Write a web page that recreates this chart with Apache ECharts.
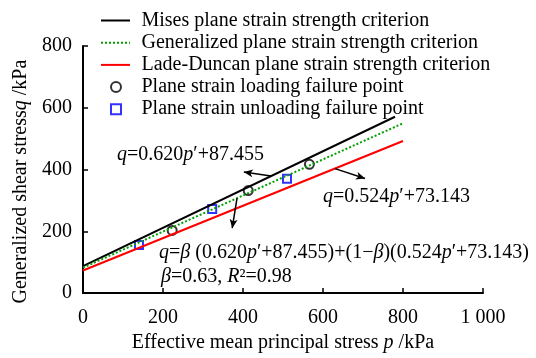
<!DOCTYPE html>
<html>
<head>
<meta charset="utf-8">
<script src="https://cdn.jsdelivr.net/npm/echarts@6/dist/echarts.min.js"></script>
<style>
  html, body { margin: 0; padding: 0; background: #fff; }
  #chart { width: 536px; height: 358px; }
</style>
</head>
<body>
<div id="chart"></div>
<script>
// line end points [p', q]
var misesLine = [[0, 87.5], [780, 571]];
var generalLine = [[0, 82.2], [800, 549.8]];
var ladeLine = [[0, 73.1], [800, 492.3]];
// test points
var loadingPts = [[223, 203], [413, 332], [566, 417]];
var unloadingPts = [[140, 156], [323, 272], [510, 370]];

var seriesNames = [
  "Mises plane strain strength criterion",
  "Generalized plane strain strength criterion",
  "Lade-Duncan plane strain strength criterion",
  "Plane strain loading failure point",
  "Plane strain unloading failure point"
];

var FONT = "'Times New Roman', 'Liberation Serif', serif";
var FS = 20;

var chart = echarts.init(document.getElementById("chart"));

function ann(text, left, top) {
  return {
    type: "text", left: left, top: top,
    style: {
      text: text,
      font: FS + "px " + FONT, fill: "#000",
      rich: { i: { fontFamily: FONT, fontSize: FS, fontStyle: "italic" } }
    }
  };
}

chart.setOption({
  animation: false,
  backgroundColor: "#fff",
  grid: { left: 83, right: 53, top: 46, bottom: 60 },
  legend: [
    {
      data: seriesNames.slice(0, 3),
      orient: "vertical",
      left: 100,
      top: 10.5,
      padding: 0,
      itemWidth: 29,
      itemHeight: 12,
      itemGap: 2.2,
      itemStyle: { color: "transparent", borderWidth: 0, opacity: 0 },
      textStyle: { fontFamily: FONT, fontSize: FS, color: "#000", lineHeight: 20, padding: [0, 0, 0, 6.5] }
    },
    {
      data: seriesNames.slice(3),
      orient: "vertical",
      left: 110,
      top: 77,
      padding: 0,
      itemWidth: 10,
      itemHeight: 10,
      itemGap: 2.2,
      textStyle: { fontFamily: FONT, fontSize: FS, color: "#000", lineHeight: 20, padding: [0, 0, 0, 15.5] }
    }
  ],
  xAxis: {
    type: "value",
    min: 0,
    max: 1000,
    interval: 200,
    name: "Effective mean principal stress {i|p} /kPa",
    nameLocation: "middle",
    nameGap: 39,
    nameTextStyle: {
      fontFamily: FONT, fontSize: FS, color: "#000",
      rich: { i: { fontFamily: FONT, fontSize: FS, fontStyle: "italic", color: "#000" } }
    },
    axisLine: { lineStyle: { color: "#000", width: 2 } },
    axisTick: { inside: true, length: 5, lineStyle: { color: "#000", width: 1.5 } },
    axisLabel: {
      margin: 15, fontFamily: FONT, fontSize: FS, color: "#000",
      formatter: function (v) { return v === 1000 ? "1 000" : String(v); }
    },
    splitLine: { show: false }
  },
  yAxis: {
    type: "value",
    min: 0,
    max: 800,
    interval: 200,
    name: "Generalized shear stress{i|q} /kPa",
    nameLocation: "middle",
    nameGap: 38,
    nameTextStyle: {
      fontFamily: FONT, fontSize: FS, color: "#000",
      padding: [0, 24, 0, 0],
      rich: { i: { fontFamily: FONT, fontSize: FS, fontStyle: "italic", color: "#000" } }
    },
    axisLine: { show: true, lineStyle: { color: "#000", width: 2 } },
    axisTick: { show: true, inside: true, length: 5, lineStyle: { color: "#000", width: 1.5 } },
    axisLabel: { margin: 11, fontFamily: FONT, fontSize: FS, color: "#000" },
    splitLine: { show: false }
  },
  graphic: [
    ann("{i|q}=0.620{i|p}′+87.455", 117, 145),
    ann("{i|q}=0.524{i|p}′+73.143", 323, 187),
    ann("{i|q}={i|β} (0.620{i|p}′+87.455)+(1−{i|β})(0.524{i|p}′+73.143)", 159, 243),
    ann("{i|β}=0.63, {i|R}²=0.98", 161, 267)
  ],
  series: [
    {
      name: seriesNames[0],
      type: "line",
      symbol: "none",
      lineStyle: { color: "#000", width: 2 },
      itemStyle: { color: "#000" },
      data: misesLine,
      markLine: {
        silent: true,
        symbol: ["none", "arrow"],
        symbolSize: [6, 9],
        label: { show: false },
        lineStyle: { color: "#000", width: 1.5, type: "solid" },
        data: [
          [{ coord: [470, 379] }, { coord: [402, 392] }],
          [{ coord: [630, 403] }, { coord: [705, 371] }],
          [{ coord: [385, 307] }, { coord: [373, 210] }]
        ]
      }
    },
    {
      name: seriesNames[1],
      type: "line",
      symbol: "none",
      lineStyle: { color: "#00a000", width: 2, type: "dotted" },
      itemStyle: { color: "#00a000" },
      data: generalLine
    },
    {
      name: seriesNames[2],
      type: "line",
      symbol: "none",
      lineStyle: { color: "#ff0000", width: 2 },
      itemStyle: { color: "#ff0000" },
      data: ladeLine
    },
    {
      name: seriesNames[3],
      type: "scatter",
      symbol: "circle",
      symbolSize: 9,
      itemStyle: { color: "transparent", borderColor: "#000", borderWidth: 2 },
      data: loadingPts
    },
    {
      name: seriesNames[4],
      type: "scatter",
      symbol: "rect",
      symbolSize: 8,
      itemStyle: { color: "transparent", borderColor: "#0000ff", borderWidth: 2 },
      data: unloadingPts
    }
  ]
});
</script>
</body>
</html>
